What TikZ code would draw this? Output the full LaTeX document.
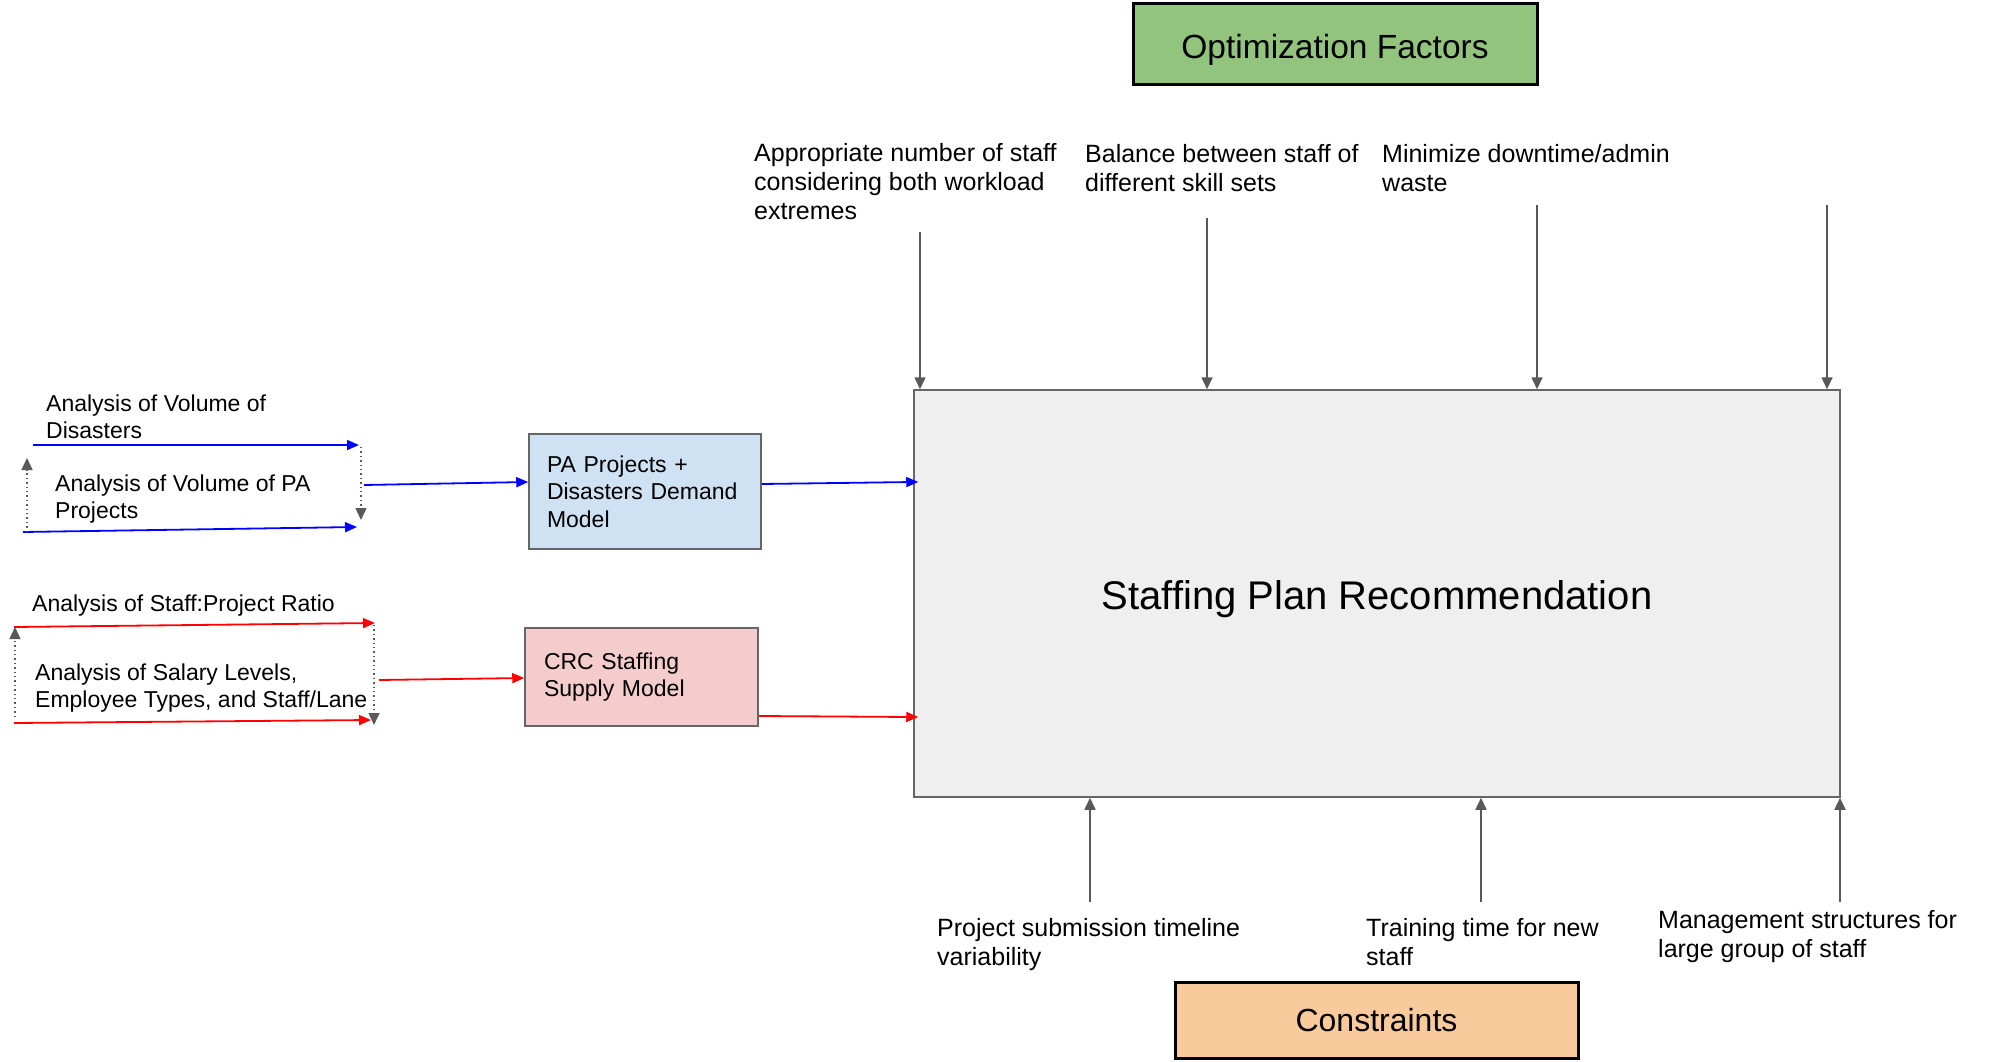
\documentclass[tikz,border=0pt]{standalone}
\usepackage{fontspec}
\setmainfont{Liberation Sans}
\usetikzlibrary{arrows.meta,calc}
\definecolor{gline}{HTML}{595959}
\definecolor{bborder}{HTML}{666666}
\definecolor{ofgreen}{HTML}{93C47D}
\definecolor{csorange}{HTML}{F9CB9C}
\definecolor{pablue}{HTML}{CFE2F3}
\definecolor{crcpink}{HTML}{F4CCCC}
\definecolor{biggray}{HTML}{EFEFEF}
\definecolor{pureblue}{HTML}{0000FF}
\definecolor{purered}{HTML}{FF0000}
\tikzset{
  lbltop/.style={anchor=north west, inner sep=0pt, align=left, font=\fontsize{25}{29}\selectfont},
  lblleft/.style={anchor=north west, inner sep=0pt, align=left, font=\fontsize{23}{26.5}\selectfont},
  titlebox/.style={draw=black, line width=3pt, minimum width=404pt, font=\fontsize{32}{38}\selectfont},
  modelbox/.style={draw=bborder, line width=1.5pt, align=left, inner ysep=0pt, font=\fontsize{23}{27.5}\selectfont},
  bigbox/.style={draw=bborder, line width=1.5pt, fill=biggray, minimum width=926pt, minimum height=407pt, font=\fontsize{40}{48}\selectfont},
  grayarr/.style={draw=gline, line width=1.6pt, -{Triangle[length=12pt,width=11pt]}},
  dotarr/.style={draw=gline, line width=1.4pt, dash pattern=on 1.4pt off 3pt, -{Triangle[length=12pt,width=11pt]}},
  bluarr/.style={draw=pureblue, line width=1.8pt, -{Triangle[length=12pt,width=10pt]}},
  redarr/.style={draw=purered, line width=1.8pt, -{Triangle[length=12pt,width=10pt]}}
}
\begin{document}
\begin{tikzpicture}[x=1pt,y=-1pt]
\useasboundingbox (0,0) rectangle (1999,1062);
\fill[white] (0,0) rectangle (1999,1062);

% title boxes
\node[titlebox, fill=ofgreen, minimum height=81pt, font=\fontsize{33.5}{40}\selectfont, text height=29pt, text depth=0pt] (opt) at (1335,44.5) {Optimization Factors};
\node[titlebox, fill=csorange, minimum height=76pt, minimum width=403pt] (cons) at (1376.5,1020) {Constraints};

% big box
\node[bigbox, text height=31pt, text depth=0pt] (big) at (1377,593.5) {Staffing Plan Recommendation};

% model boxes
\node[modelbox, fill=pablue, minimum height=115pt, inner xsep=18pt, text width=196pt] (pa) at (645,491.5) {PA Projects +\\Disasters Demand\\Model};
\node[modelbox, fill=crcpink, minimum height=98pt, inner xsep=19pt, text width=195pt] (crc) at (641.5,677) {CRC Staffing\\Supply Model};

% top labels
\node[lbltop] (t1lbl) at (754,143) {Appropriate number of staff\\considering both workload\\extremes};
\node[lbltop] (t2lbl) at (1085,144) {Balance between staff of\\different skill sets};
\node[lbltop] (t3lbl) at (1382,144) {Minimize downtime/admin\\waste};

% bottom labels
\node[lbltop] (b1lbl) at (937,918) {Project submission timeline\\variability};
\node[lbltop] (b2lbl) at (1366,918) {Training time for new\\staff};
\node[lbltop] (b3lbl) at (1658,910) {Management structures for\\large group of staff};

% left labels
\node[lblleft] (l1) at (46,395) {Analysis of Volume of\\Disasters};
\node[lblleft] (l2) at (55,475) {Analysis of Volume of PA\\Projects};
\node[lblleft] (l3) at (32,595) {Analysis of Staff:Project Ratio};
\node[lblleft] (l4) at (35,664) {Analysis of Salary Levels,\\Employee Types, and Staff/Lane};

% top arrows
\coordinate (ta1) at (920,232);
\coordinate (ta2) at (1207,218);
\coordinate (ta3) at (1537,205);
\coordinate (ta4) at (1827,205);
\foreach \c in {ta1,ta2,ta3,ta4} \draw[grayarr] (\c) -- (\c |- big.north);

% bottom arrows
\coordinate (ba1) at (1090,902);
\coordinate (ba2) at (1481,902);
\coordinate (ba3) at (1840,902);
\foreach \c in {ba1,ba2,ba3} \draw[grayarr] (\c) -- (\c |- big.south);

% blue group
\coordinate (bs1) at (33,445);   \coordinate (be1) at (359,445);
\coordinate (bs2) at (23,532);   \coordinate (be2) at (357,527);
\coordinate (bu1) at (27,532);   \coordinate (bu2) at (27,458);
\coordinate (bd1) at (361,447);  \coordinate (bd2) at (361,520);
\coordinate (bo) at (364,485);
\draw[bluarr] (bs1) -- (be1);
\draw[bluarr] (bs2) -- (be2);
\draw[dotarr] (bu1) -- (bu2);
\draw[dotarr] (bd1) -- (bd2);
\draw[bluarr] (bo) -- ($(pa.west)+(0,-9.5)$);
\draw[bluarr, shorten >=-5pt] ($(pa.east)+(0,-7.5)$) -- ($(pa.east -| big.west)+(0,-9.5)$);

% red group
\coordinate (rs1) at (14,627);   \coordinate (re1) at (375,623);
\coordinate (rs2) at (14,723);   \coordinate (re2) at (371,720);
\coordinate (ru1) at (15,717);   \coordinate (ru2) at (15,627);
\coordinate (rd1) at (374,625);  \coordinate (rd2) at (374,725);
\coordinate (ro) at (379,680);
\draw[redarr] (rs1) -- (re1);
\draw[redarr] (rs2) -- (re2);
\draw[dotarr] (ru1) -- (ru2);
\draw[dotarr] (rd1) -- (rd2);
\draw[redarr] (ro) -- ($(crc.west)+(0,1)$);
\draw[redarr, shorten >=-5pt] ($(crc.east)+(0,39)$) -- ($(crc.east -| big.west)+(0,40)$);
\end{tikzpicture}
\end{document}
